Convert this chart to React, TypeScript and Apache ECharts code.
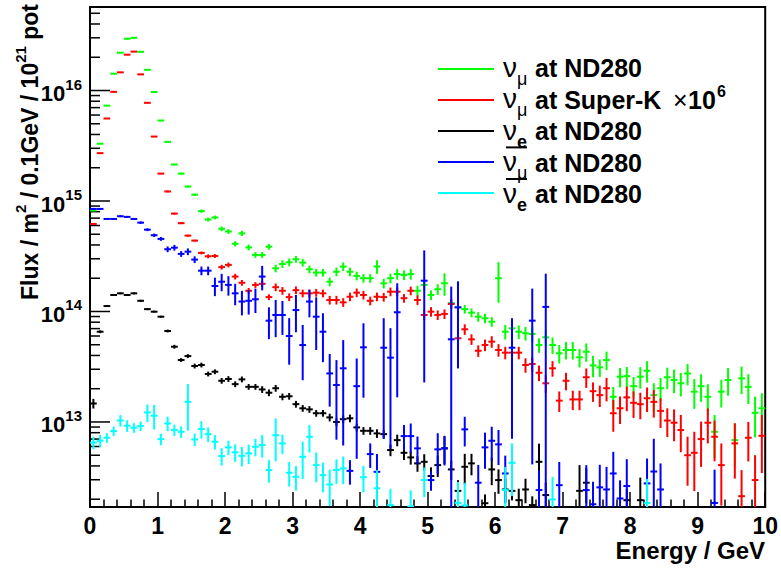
import React, { useEffect, useRef } from "react";
import * as echarts from "echarts";

const FONT = '"Liberation Sans", Arial, Helvetica, sans-serif';

// binning: 100 bins of 0.1 GeV from 0 to 10 GeV
const NBINS = 100;
const BIN_WIDTH = 0.1;
const energy: number[] = Array.from({ length: NBINS }, (_, i) => Math.round((i + 0.5) * BIN_WIDTH * 1000) / 1000);

const xTickLabels = ["0", "1", "2", "3", "4", "5", "6", "7", "8", "9", "10"];
const Y_MIN = 1.7e12;
const Y_MAX = 5.7e16;

// nu_mu at ND280 (green)
const numuND: (number | null)[] = [
  8.2e14, 3.3e15, 7.3e15, 1.42e16, 2.2e16, 2.94e16, 3.0e16, 2.24e16, 1.54e16, 9.7e15,
  5.35e15, 3.43e15, 2.14e15, 1.77e15, 1.35e15, 1.14e15, 8.1e14, 6.8e14, 7.1e14, 5.6e14,
  5.3e14, 4.1e14, 5.1e14, 3.8e14, 3.25e14, 3.25e14, 3.86e14, 2.46e14, 2.69e14, 2.79e14,
  2.97e14, 2.77e14, 2.41e14, 2.25e14, 2.25e14, 1.86e14, 2.29e14, 2.55e14, 2.29e14, 2.1e14,
  2.0e14, 2.0e14, 2.55e14, 1.8e14, 2.0e14, 2.18e14, 2.14e14, 2.18e14, 1.54e14, 1.74e14,
  1.41e14, 1.59e14, 1.8e14, 1.19e14, 1.09e14, 1.05e14, 9.75e13, 8.97e13, 8.68e13, 8.08e13,
  2.0e14, 6.56e13, 7.04e13, 6.56e13, 6.35e13, 6.25e13, 4.97e13, 5.84e13, 4.97e13, 4.18e13,
  4.48e13, 4.48e13, 3.85e13, 4.32e13, 3.25e13, 3.12e13, 3.64e13, 1.69e13, 2.57e13, 2.6e13,
  2.11e13, 2.57e13, 2.91e13, 1.75e13, 2.02e13, 2.54e13, 2.4e13, 2.24e13, 2.75e13, 1.88e13,
  2.11e13, 1.69e13, 8.15e12, 1.88e13, 2.4e13, 6.85e12, 2.48e13, 2.08e13, 1.21e13, 1.33e13,
];
const numuNDErr: number[] = [
  1, 1, 1, 1, 1, 1, 1, 1, 1, 1,
  1, 1.5, 1.5, 2, 2, 2.5, 3.5, 4, 4, 5,
  5, 5.5, 5.5, 6, 6, 6, 6, 8, 8, 8,
  7, 8, 8, 8, 8, 9, 9, 9, 9, 9,
  9, 9, 14, 10, 10, 11, 10, 11, 11, 11,
  10, 11, 23, 9, 9, 9, 9, 10, 10, 10,
  40, 15, 14, 14, 14, 15, 15, 16, 17, 19,
  18, 18, 19, 19, 22, 18, 19, 23, 20, 21,
  21, 22, 22, 28, 24, 22, 24, 24, 22, 30,
  28, 30, 42, 28, 28, 42, 28, 30, 40, 37,
];

// nu_mu at Super-K x 1e6 (red)
const numuSK: (number | null)[] = [
  6.2e14, 2.71e15, 5.58e15, 9.73e15, 1.46e16, 2.11e16, 2.25e16, 1.4e16, 7.74e15, 3.83e15,
  1.77e15, 1.22e15, 7.69e14, 6.3e14, 4.86e14, 4.38e14, 3.39e14, 3.16e14, 3.18e14, 2.52e14,
  2.64e14, 2.07e14, 1.82e14, 1.54e14, 1.74e14, 1.78e14, 1.35e14, 1.66e14, 1.54e14, 1.35e14,
  1.56e14, 1.46e14, 1.46e14, 1.48e14, 1.46e14, 1.27e14, 1.27e14, 1.21e14, 1.36e14, 1.48e14,
  1.41e14, 1.25e14, 1.36e14, 1.35e14, 1.51e14, 1.51e14, 1.32e14, 1.54e14, 1.27e14, 9.3e13,
  9.96e13, 9.3e13, 9.5e13, 1.17e14, 5.72e13, 6.9e13, 5.6e13, 4.41e13, 4.97e13, 5.33e13,
  4.48e13, 4.24e13, 4.24e13, 4.24e13, 3.28e13, 3.35e13, 2.79e13, 2.24e13, 3.06e13, 1.56e13,
  2.36e13, 1.6e13, 1.6e13, 2.54e13, 1.9e13, 1.75e13, 2.02e13, 1.2e13, 1.33e13, 1.67e13,
  1.49e13, 1.45e13, 1.64e13, 1.52e13, 1.26e13, 1.03e13, 9.84e12, 8.45e12, 5.0e12, 5.26e12,
  7.0e12, 9.84e12, 7.35e12, 4.07e12, null, 6.4e12, 2.13e12, 7.2e12, 2.98e12, 7.5e12,
];
const numuSKErr: number[] = [
  1, 1, 1, 1, 1, 1, 1, 1, 1, 1,
  1, 2, 2, 2, 2, 2, 3, 4, 4, 5,
  5, 6, 6, 6, 6, 6, 6, 8, 8, 8,
  8, 8, 8, 8, 8, 9, 9, 9, 9, 9,
  9, 9, 9, 9, 9, 9, 9, 9, 10, 10,
  10, 10, 10, 10, 11, 11, 11, 12, 12, 12,
  13, 13, 13, 13, 15, 15, 16, 18, 16, 21,
  18, 20, 20, 20, 20, 22, 24, 32, 28, 25,
  27, 27, 25, 28, 30, 29, 32, 37, 47, 55,
  44, 35, 40, 57, 0, 52, 72, 39, 68, 54,
];

// nu_e at ND280 (black)
const nueND: (number | null)[] = [
  1.47e13, 6.56e13, 1.12e14, 1.41e14, 1.46e14, 1.41e14, 1.46e14, 1.25e14, 1.05e14, 9.96e13,
  8.97e13, 6.66e13, 4.8e13, 3.64e13, 3.95e13, 3.21e13, 3.28e13, 2.72e13, 2.85e13, 2.36e13,
  2.45e13, 2.2e13, 2.43e13, 2.08e13, 2.08e13, 1.97e13, 1.84e13, 2.02e13, 1.69e13, 1.71e13,
  1.45e13, 1.33e13, 1.3e13, 1.2e13, 1.2e13, 1.1e13, 1.0e13, 1.06e13, 1.08e13, 8.93e12,
  8.32e12, 8.32e12, 7.88e12, 7.76e12, 5.57e12, 6.85e12, 5.26e12, 4.78e12, 4.22e12, 4.36e12,
  3.24e12, 4.07e12, 5.77e12, 3.72e12, 2.38e12, 3.93e12, 4.22e12, null, 1.84e12, 3.72e12,
  2.98e12, 2.45e12, 2.38e12, 1.96e12, 2.45e12, 1.77e12, 4.36e12, 2.18e12, null, null,
  null, null, 2.38e12, 2.82e12, null, null, null, null, null, 1.96e12,
  null, 1.96e12, null, null, null, null, null, null, null, null,
  null, null, null, null, null, null, null, null, null, null,
];
const nueNDErr: number[] = [
  10, 3, 2, 2, 2, 2, 2, 2, 2, 2,
  2, 3, 4, 4, 4, 5, 5, 5, 5, 6,
  6, 6, 6, 6, 6, 7, 7, 7, 7, 7,
  7, 7, 7, 7, 7, 8, 8, 8, 8, 8,
  8, 8, 9, 9, 12, 12, 14, 14, 16, 17,
  20, 22, 28, 20, 25, 31, 22, 0, 20, 28,
  25, 25, 18, 27, 25, 20, 46, 30, 0, 0,
  0, 0, 71, 35, 0, 0, 0, 0, 0, 27,
  0, 60, 0, 0, 0, 0, 0, 0, 0, 0,
  0, 0, 0, 0, 0, 0, 0, 0, 0, 0,
];

// anti-nu_mu at ND280 (blue)
const numubarND: (number | null)[] = [
  8.48e14, 8.48e14, 6.88e14, 6.88e14, 7.28e14, 7.18e14, 6.88e14, 6.37e14, 5.5e14, 4.9e14,
  4.54e14, 3.66e14, 3.78e14, 3.32e14, 3.48e14, 2.95e14, 2.34e14, 2.34e14, 1.7e14, 1.86e14,
  1.74e14, 1.46e14, 1.23e14, 1.25e14, 1.29e14, 2.07e14, 8.26e13, 9.29e13, 9.29e13, 6.0e13,
  1.03e14, 4.97e13, 1.23e14, 8.97e13, 6.56e13, 2.75e13, 2.16e13, 3.06e13, 3.61e12, 2.11e13,
  4.74e13, 5.12e12, 3.54e12, 4.7e13, 3.82e13, 9.84e13, 7.45e12, 7.45e12, 5.77e12, 1.9e14,
  2.98e12, 5.65e12, 5.77e12, 5.6e13, 1.09e14, 8.57e12, null, 2.82e12, 5.89e12, 6.76e12,
  6.27e12, 3.42e12, 4.7e13, null, null, 8.26e13, 2.42e12, 1.1e14, null, 2.68e12,
  null, null, null, 2.42e12, 1.8e12, 2.56e12, 2.45e12, 3.42e12, 2.03e12, 2.63e12,
  null, null, 2.78e12, 3.56e12, 2.45e12, null, null, null, null, null,
  null, null, 1.85e12, null, null, null, null, null, null, null,
];
const numubarNDErr: number[] = [
  2, 2, 2, 2, 2, 2, 2, 2.5, 3, 3.5,
  4, 6, 6, 6, 7, 7, 9, 9, 19, 18,
  20, 22, 25, 25, 25, 25, 32, 37, 34, 45,
  37, 52, 28, 50, 47, 50, 68, 80, 25, 78,
  65, 25, 45, 85, 85, 83, 26, 30, 28, 88,
  20, 40, 30, 200, 72, 30, 0, 45, 36, 34,
  35, 45, 85, 0, 0, 95, 50, 100, 0, 62,
  0, 0, 0, 68, 60, 60, 60, 57, 46, 75,
  0, 0, 68, 98, 72, 0, 0, 0, 0, 0,
  0, 0, 100, 0, 0, 0, 0, 0, 0, 0,
];

// anti-nu_e at ND280 (cyan)
const nuebarND: (number | null)[] = [
  6.5e12, 6.76e12, 7.2e12, 8.27e12, 1.03e13, 9.25e12, 8.86e12, 9.18e12, 1.22e13, 1.14e13,
  7.0e12, 9.71e12, 8.45e12, 8.15e12, 1.52e13, 6.95e12, 8.63e12, 7.76e12, 6.62e12, 4.91e12,
  5.89e12, 5.31e12, 4.94e12, 5.2e12, 5.96e12, 6.18e12, 3.67e12, 7.6e12, 6.4e12, 3.47e12,
  3.19e12, 4.84e12, 7.35e12, 4.07e12, 3.3e12, 2.72e12, 3.67e12, 3.8e12, null, null,
  3.16e12, null, 2.51e12, null, 1.77e12, null, null, 1.72e12, null, 2.98e12,
  null, null, null, null, 1.85e12, 1.76e12, null, null, null, null,
  null, 2.42e12, 4.27e12, null, null, null, null, null, 1.99e12, null,
  null, null, null, null, null, null, null, null, null, null,
  null, null, 1.85e12, null, null, null, null, null, null, null,
  null, null, null, null, null, null, null, null, null, null,
];
const nuebarNDErr: number[] = [
  13, 13, 10, 10, 12, 12, 10, 10, 18, 25,
  12, 15, 12, 12, 45, 13, 18, 15, 15, 18,
  15, 18, 20, 20, 18, 23, 23, 42, 20, 25,
  25, 37, 28, 30, 30, 36, 25, 28, 0, 0,
  27, 0, 46, 0, 40, 0, 0, 40, 0, 30,
  0, 0, 0, 0, 55, 60, 0, 0, 0, 0,
  0, 62, 50, 0, 0, 0, 0, 0, 60, 0,
  0, 0, 0, 0, 0, 0, 0, 0, 0, 0,
  0, 0, 65, 0, 0, 0, 0, 0, 0, 0,
  0, 0, 0, 0, 0, 0, 0, 0, 0, 0,
];

const COLORS = {
  numuND: "#00ff00",
  numuSK: "#ff0000",
  nueND: "#000000",
  numubarND: "#0000ff",
  nuebarND: "#00ffff",
};

function buildData(vals: (number | null)[], errs: number[]) {
  const out: number[][] = [];
  vals.forEach((v, i) => {
    if (v == null || v <= 0) return;
    const r = errs[i] / 100;
    let lo = v * (1 - r);
    if (!(lo > Y_MIN)) lo = Y_MIN;
    const hi = Math.min(v * (1 + r), Y_MAX);
    out.push([energy[i], v, lo, hi]);
  });
  return out;
}

function errSeries(name: string, color: string, vals: (number | null)[], errs: number[]) {
  return {
    type: "custom",
    name,
    clip: true,
    silent: true,
    data: buildData(vals, errs),
    encode: { x: 0, y: 1 },
    renderItem: (params: any, api: any) => {
      const x = api.value(0);
      const y = api.value(1);
      const lo = api.value(2);
      const hi = api.value(3);
      const a = api.coord([x - BIN_WIDTH / 2, y]);
      const b = api.coord([x + BIN_WIDTH / 2, y]);
      const c = api.coord([x, lo]);
      const d = api.coord([x, hi]);
      return {
        type: "group",
        children: [
          { type: "line", shape: { x1: a[0], y1: a[1], x2: b[0], y2: b[1] }, style: { stroke: color, lineWidth: 2 } },
          { type: "line", shape: { x1: c[0], y1: c[1], x2: d[0], y2: d[1] }, style: { stroke: color, lineWidth: 2 } },
        ],
      };
    },
  };
}

// log-axis ticks (ROOT style: 1..9 x 10^n)
const yTickData: number[][] = [];
for (let d = 12; d <= 16; d++) {
  for (let k = 1; k <= 9; k++) {
    const v = k * Math.pow(10, d);
    if (v > Y_MIN && v < Y_MAX) yTickData.push([0, v, k === 1 ? 1 : 0]);
  }
}

const legendEntries = [
  { color: COLORS.numuND, sub: "μ", subBold: false, bar: false, text: "at ND280", extra: false },
  { color: COLORS.numuSK, sub: "μ", subBold: false, bar: false, text: "at Super-K", extra: true },
  { color: COLORS.nueND, sub: "e", subBold: true, bar: false, text: "at ND280", extra: false },
  { color: COLORS.numubarND, sub: "μ", subBold: false, bar: true, text: "at ND280", extra: false },
  { color: COLORS.nuebarND, sub: "e", subBold: true, bar: true, text: "at ND280", extra: false },
];

function buildLegend() {
  const els: any[] = [];
  legendEntries.forEach((e, k) => {
    const B = 76.6 + 31.6 * k; // text baseline
    const ly = 69 + 31 * k;
    els.push({ type: "line", shape: { x1: 438, y1: ly, x2: 494, y2: ly }, style: { stroke: e.color, lineWidth: 2 } });
    els.push({ type: "text", x: 503, y: B - 9.5, style: { text: "ν", font: `normal 28px ${FONT}`, fill: "#000", align: "left", verticalAlign: "middle" } });
    els.push({ type: "text", x: 517, y: B + 2, style: { text: e.sub, font: `${e.subBold ? "bold" : "normal"} 18px ${FONT}`, fill: "#000", align: "left", verticalAlign: "middle" } });
    els.push({ type: "text", x: 535, y: B - 8.6, style: { text: e.text, font: `bold 25px ${FONT}`, fill: "#000", align: "left", verticalAlign: "middle" } });
    if (e.bar) {
      els.push({ type: "line", shape: { x1: 506, y1: B - 24, x2: 527, y2: B - 24 }, style: { stroke: "#000", lineWidth: 2 } });
    }
    if (e.extra) {
      els.push({ type: "text", x: 673, y: B - 8.6, style: { text: "×", font: `normal 25px ${FONT}`, fill: "#000", align: "left", verticalAlign: "middle" } });
      els.push({ type: "text", x: 688, y: B - 8.6, style: { text: "10", font: `bold 25px ${FONT}`, fill: "#000", align: "left", verticalAlign: "middle" } });
      els.push({ type: "text", x: 717, y: B - 17, style: { text: "6", font: `bold 16px ${FONT}`, fill: "#000", align: "left", verticalAlign: "middle" } });
    }
  });
  return els;
}

export default function App() {
  const ref = useRef<HTMLDivElement>(null);
  useEffect(() => {
    if (!ref.current) return;
    const chart = echarts.init(ref.current, undefined, { renderer: "svg" });
    const option: any = {
      animation: false,
      backgroundColor: "#ffffff",
      grid: { left: 90, top: 7, right: 15, bottom: 64, show: true, borderColor: "#000", borderWidth: 2, backgroundColor: "transparent" },
      xAxis: {
        type: "value",
        min: 0,
        max: 10,
        interval: 1,
        axisLine: { show: false },
        splitLine: { show: false },
        axisTick: { show: true, inside: true, length: 15, lineStyle: { color: "#000", width: 1.5 } },
        minorTick: { show: true, splitNumber: 5, length: 7.5, lineStyle: { color: "#000", width: 1.5 } },
        minorSplitLine: { show: false },
        axisLabel: {
          margin: 7,
          color: "#000",
          fontFamily: FONT,
          fontWeight: "bold",
          fontSize: 23,
          formatter: (v: number) => xTickLabels[Math.round(v)] ?? "",
        },
      },
      yAxis: {
        type: "log",
        logBase: 10,
        min: Y_MIN,
        max: Y_MAX,
        axisLine: { show: false },
        axisTick: { show: false },
        splitLine: { show: false },
        axisLabel: {
          margin: 8,
          showMinLabel: false,
          showMaxLabel: false,
          formatter: (v: number) => {
            const e = Math.log10(v);
            if (Math.abs(e - Math.round(e)) < 1e-3) return `{b|10}{s|${Math.round(e)}}`;
            return "";
          },
          rich: {
            b: { fontFamily: FONT, fontWeight: "bold", fontSize: 22, color: "#000", lineHeight: 28, verticalAlign: "bottom" },
            s: { fontFamily: FONT, fontWeight: "bold", fontSize: 15, color: "#000", lineHeight: 14, verticalAlign: "top" },
          },
        },
      },
      series: [
        {
          type: "custom",
          name: "yticks",
          silent: true,
          data: yTickData,
          encode: { x: 0, y: 1 },
          renderItem: (params: any, api: any) => {
            const p = api.coord([0, api.value(1)]);
            const len = api.value(2) ? 20 : 10;
            return { type: "line", shape: { x1: p[0], y1: p[1], x2: p[0] + len, y2: p[1] }, style: { stroke: "#000", lineWidth: 1.5 } };
          },
        },
        errSeries("νμ at ND280", COLORS.numuND, numuND, numuNDErr),
        errSeries("νμ at Super-K ×10^6", COLORS.numuSK, numuSK, numuSKErr),
        errSeries("νe at ND280", COLORS.nueND, nueND, nueNDErr),
        errSeries("anti-νμ at ND280", COLORS.numubarND, numubarND, numubarNDErr),
        errSeries("anti-νe at ND280", COLORS.nuebarND, nuebarND, nuebarNDErr),
      ],
      graphic: [
        ...buildLegend(),
        {
          type: "text",
          x: 27,
          y: 152,
          rotation: Math.PI / 2,
          style: {
            text: "{n|Flux / m}{s|2}{n| / 0.1GeV / 10}{s|21}{n| pot}",
            align: "center",
            verticalAlign: "middle",
            rich: {
              n: { fontFamily: FONT, fontWeight: "bold", fontSize: 23, fill: "#000", lineHeight: 28, verticalAlign: "bottom" },
              s: { fontFamily: FONT, fontWeight: "bold", fontSize: 15, fill: "#000", lineHeight: 14, verticalAlign: "top" },
            },
          },
        },
        {
          type: "text",
          x: 765,
          y: 550,
          style: { text: "Energy / GeV", font: `bold 24px ${FONT}`, fill: "#000", align: "right", verticalAlign: "middle" },
        },
      ],
    };
    chart.setOption(option);
    return () => chart.dispose();
  }, []);
  return <div ref={ref} style={{ position: "absolute", left: 0, top: 0, width: 781, height: 571, background: "#fff" }} />;
}
